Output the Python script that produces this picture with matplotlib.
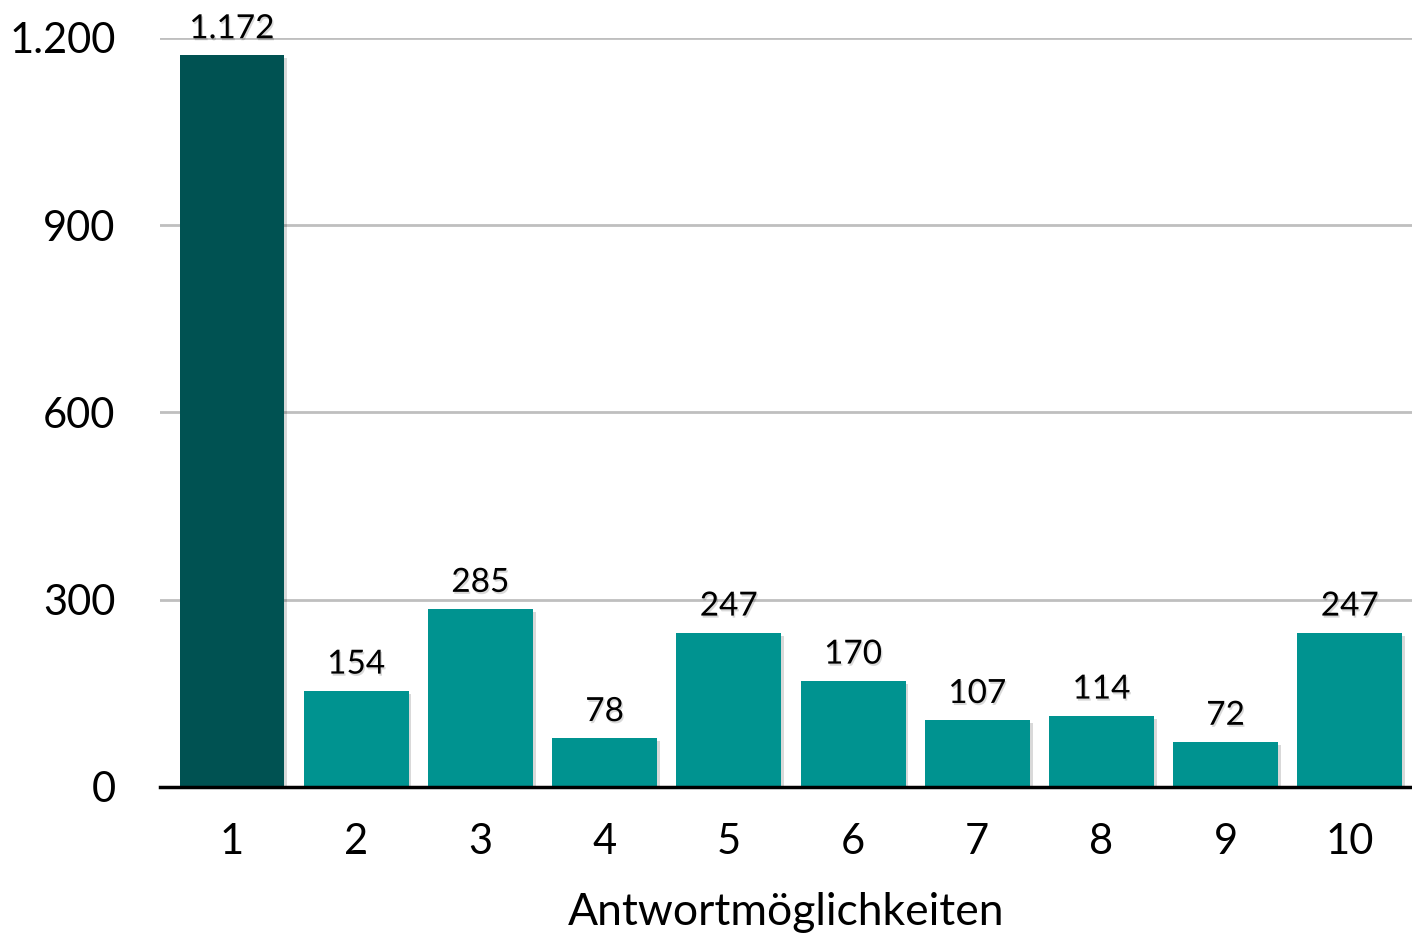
import matplotlib
matplotlib.use("Agg")
import matplotlib.pyplot as plt
import matplotlib.patheffects as pe
from matplotlib.ticker import FuncFormatter

categories = ["1", "2", "3", "4", "5", "6", "7", "8", "9", "10"]
values = [1172, 154, 285, 78, 247, 170, 107, 114, 72, 247]
value_labels = ["1.172", "154", "285", "78", "247", "170", "107", "114", "72", "247"]
yticks = [0, 300, 600, 900, 1200]
xlabel = "Antwortmöglichkeiten"

plt.rcParams['font.family'] = ['Lato', 'DejaVu Sans']

fig = plt.figure(figsize=(14.12, 9.38), dpi=100)
ax = fig.add_axes([0.1133, 0.161, 0.8867, 0.7985])

colors = ["#005252"] + ["#009390"] * (len(values) - 1)
x = list(range(len(categories)))
bars = ax.bar(x, values, width=0.845, color=colors, zorder=3)
shadow = [pe.SimplePatchShadow(offset=(2, -2), shadow_rgbFace='black', alpha=0.15), pe.Normal()]
for b in bars:
    b.set_path_effects(shadow)

txt_shadow = [pe.SimplePatchShadow(offset=(1, -1.5), shadow_rgbFace='black', alpha=0.15), pe.Normal()]
for xi, v, lab in zip(x, values, value_labels):
    ax.text(xi, v + 18, lab, ha='center', va='bottom', fontsize=24, color='black',
            zorder=4, path_effects=txt_shadow)

ax.set_ylim(0, 1200)
ax.set_xlim(-0.58, 9.5)
ax.set_yticks(yticks)
ax.yaxis.set_major_formatter(FuncFormatter(lambda v, p: f"{int(v):,}".replace(",", ".")))
ax.set_xticks(x)
ax.set_xticklabels(categories)
ax.tick_params(axis='both', length=0, labelsize=30)
ax.tick_params(axis='x', pad=26)
ax.tick_params(axis='y', pad=32)

ax.grid(axis='y', color='#BFBFBF', linewidth=2, zorder=0)
ax.set_axisbelow(True)
for s in ['top', 'right', 'left']:
    ax.spines[s].set_visible(False)
ax.spines['bottom'].set_linewidth(2.5)
ax.spines['bottom'].set_color('black')
ax.spines['bottom'].set_zorder(5)

ax.set_xlabel(xlabel, fontsize=32, labelpad=22)

fig.savefig("out.png", dpi=100)
